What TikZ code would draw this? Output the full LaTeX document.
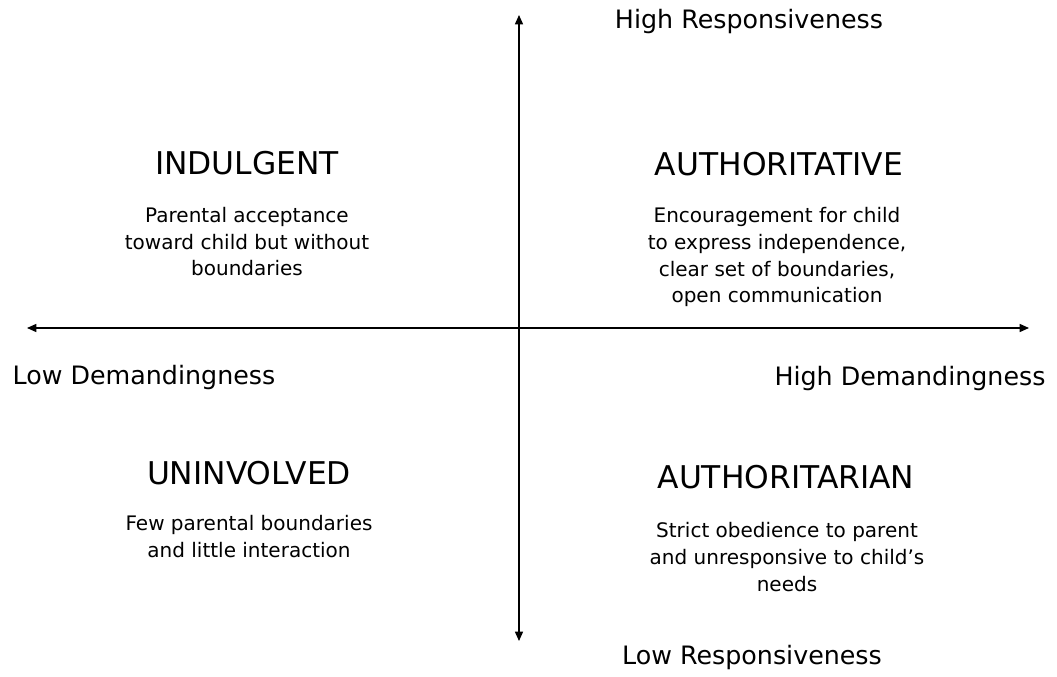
\documentclass[tikz,border=0pt]{standalone}
\usepackage{fontspec}
\setmainfont{DejaVu Sans}
\usetikzlibrary{arrows.meta}

\tikzset{
  axis/.style={line width=1.1pt,{Triangle[length=7pt,width=6pt]}-{Triangle[length=7pt,width=6pt]}},
  axislabel/.style={anchor=base,inner sep=0pt,font=\fontsize{19}{23}\selectfont},
  styletitle/.style={anchor=base,inner sep=0pt,font=\fontsize{23.5}{28}\selectfont},
  styledesc/.style={anchor=base,inner sep=0pt,align=center,font=\fontsize{15}{20.2}\selectfont}
}

\begin{document}
\begin{tikzpicture}[x=0.75pt,y=-0.75pt]
      \useasboundingbox (0,0) rectangle (1057,677);
      % axes
      \coordinate (top) at (519,15);
      \coordinate (bottom) at (519,641);
      \coordinate (left) at (27,328);
      \coordinate (right) at (1029,328);
      \draw[axis] (bottom)--(top);
      \draw[axis] (left)--(right);
      % axis labels
      \node[axislabel] (hiresp) at (749,29) {High Responsiveness};
      \node[axislabel] (loresp) at (752,664) {Low Responsiveness};
      \node[axislabel] (lodem) at (144,384) {Low Demandingness};
      \node[axislabel] (hidem) at (910,386) {High Demandingness};
      % quadrants (desc nodes sit on the baseline of their last line)
      \node[styletitle] (indulgent) at (247,175) {INDULGENT};
      \node[styledesc] (indulgentdesc) at (247,276) {Parental acceptance\\toward child but without\\boundaries};
      \node[styletitle] (authoritative) at (779,176) {AUTHORITATIVE};
      \node[styledesc] (authoritativedesc) at (777,303) {Encouragement for child\\to express independence,\\clear set of boundaries,\\open communication};
      \node[styletitle] (uninvolved) at (249,484) {UNINVOLVED};
      \node[styledesc] (uninvolveddesc) at (249,557) {Few parental boundaries\\and little interaction};
      \node[styletitle] (authoritarian) at (786,488) {AUTHORITARIAN};
      \node[styledesc] (authoritariandesc) at (787,591) {Strict obedience to parent\\and unresponsive to child’s\\needs};
\end{tikzpicture}
\end{document}
